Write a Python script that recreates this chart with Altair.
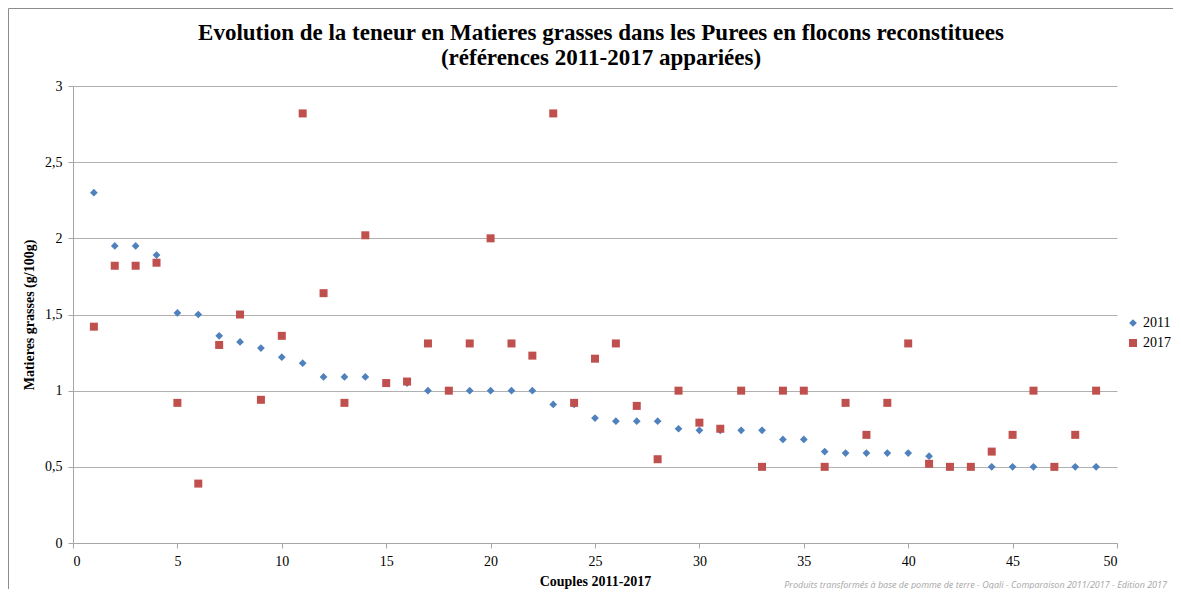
import altair as alt
import pandas as pd

couples = list(range(1, 50))
mg_2011 = [2.30, 1.95, 1.95, 1.89, 1.51, 1.50, 1.36, 1.32, 1.28, 1.22,
           1.18, 1.09, 1.09, 1.09, 1.05, 1.05, 1.00, 1.00, 1.00, 1.00,
           1.00, 1.00, 0.91, 0.91, 0.82, 0.80, 0.80, 0.80, 0.75, 0.74,
           0.74, 0.74, 0.74, 0.68, 0.68, 0.60, 0.59, 0.59, 0.59, 0.59,
           0.57, 0.50, 0.50, 0.50, 0.50, 0.50, 0.50, 0.50, 0.50]
mg_2017 = [1.42, 1.82, 1.82, 1.84, 0.92, 0.39, 1.30, 1.50, 0.94, 1.36,
           2.82, 1.64, 0.92, 2.02, 1.05, 1.06, 1.31, 1.00, 1.31, 2.00,
           1.31, 1.23, 2.82, 0.92, 1.21, 1.31, 0.90, 0.55, 1.00, 0.79,
           0.75, 1.00, 0.50, 1.00, 1.00, 0.50, 0.92, 0.71, 0.92, 1.31,
           0.52, 0.50, 0.50, 0.60, 0.71, 1.00, 0.50, 0.71, 1.00]
series = ["2011", "2017"]
title_line1 = "Evolution de la teneur en Matieres grasses dans les Purees en flocons reconstituees"
title_line2 = "(références 2011-2017 appariées)"
footer = "Produits transformés à base de pomme de terre - Oqali - Comparaison 2011/2017 - Edition 2017"

df = pd.concat([
    pd.DataFrame({"couple": couples, "mg": mg_2011, "serie": "2011"}),
    pd.DataFrame({"couple": couples, "mg": mg_2017, "serie": "2017"}),
], ignore_index=True)
one = pd.DataFrame({"k": [0]})

SERIF = "Liberation Serif"
W, H = 1044, 457

points = alt.Chart(df).mark_point(filled=True, opacity=1).encode(
    x=alt.X("couple:Q", scale=alt.Scale(domain=[0, 50], nice=False),
            axis=alt.Axis(values=list(range(0, 51, 5)), title="Couples 2011-2017",
                          grid=False, domainColor="#a6a6a6", tickColor="#a6a6a6",
                          tickSize=5, labelPadding=6, titlePadding=6)),
    y=alt.Y("mg:Q", scale=alt.Scale(domain=[0, 3], nice=False),
            axis=alt.Axis(values=[0, 0.5, 1, 1.5, 2, 2.5, 3],
                          labelExpr="replace(format(datum.value, '~g'), '.', ',')",
                          title="Matieres grasses (g/100g)", grid=True,
                          gridColor="#b0b0b0", domainColor="#a6a6a6", tickColor="#a6a6a6",
                          tickSize=5, labelPadding=6, titlePadding=8)),
    color=alt.Color("serie:N", scale=alt.Scale(domain=series, range=["#4F81BD", "#C0504D"]),
                    legend=alt.Legend(title=None, orient="none", legendX=1053, legendY=230,
                                      labelFont=SERIF, labelFontSize=14, labelColor="#000000",
                                      symbolSize=55, rowPadding=6, labelOffset=3)),
    shape=alt.Shape("serie:N", scale=alt.Scale(domain=series, range=["diamond", "square"])),
    size=alt.Size("serie:N", scale=alt.Scale(domain=series, range=[60, 64]), legend=None),
)

border = alt.Chart(one).mark_rule(color="#8c8c8c", strokeWidth=1).encode(
    x=alt.value(-64.5), y=alt.value(-77.5), y2=alt.value(510))
border_top = alt.Chart(one).mark_rule(color="#8c8c8c", strokeWidth=1).encode(
    x=alt.value(-64.5), x2=alt.value(1110), y=alt.value(-77.5))
title1 = alt.Chart(one).mark_text(text=title_line1, align="center", baseline="middle",
                                  font=SERIF, fontSize=23, fontWeight="bold",
                                  color="#000000").encode(x=alt.value(528), y=alt.value(-53))
title2 = alt.Chart(one).mark_text(text=title_line2, align="center", baseline="middle",
                                  font=SERIF, fontSize=23, fontWeight="bold",
                                  color="#000000").encode(x=alt.value(528), y=alt.value(-28))
foot = alt.Chart(one).mark_text(text=footer, align="right", baseline="alphabetic",
                                font="Open Sans", fontStyle="italic", fontSize=9,
                                color="#a6a6a6").encode(
    x=alt.value(1094), y=alt.value(502))

chart = alt.layer(border, border_top, title1, title2, points, foot).properties(
    width=W, height=H,
    autosize=alt.AutoSizeParams(type="none"),
    padding={"left": 65, "top": 78, "right": 56, "bottom": 46},
).configure_axis(
    labelFont=SERIF, labelFontSize=14, labelColor="#000000",
    titleFont=SERIF, titleFontSize=14, titleFontWeight="bold", titleColor="#000000",
).configure_view(stroke=None)

chart.save("out.html", embed_options={"renderer": "svg", "actions": False})
